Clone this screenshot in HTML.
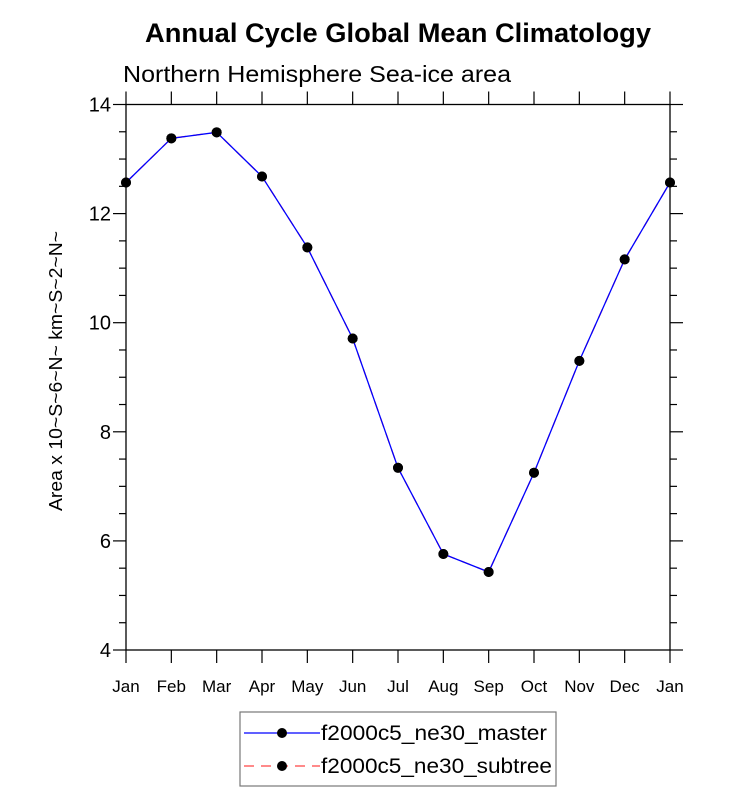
<!DOCTYPE html>
<html><head><meta charset="utf-8"><style>
body{margin:0;background:#fff;}
svg{display:block;font-family:"Liberation Sans",Helvetica,Arial,sans-serif;}
</style></head><body>
<svg id="chart" width="733" height="792">
<text x="398" y="42" text-anchor="middle" font-size="27" font-weight="bold" textLength="506" lengthAdjust="spacingAndGlyphs">Annual Cycle Global Mean Climatology</text>
<text x="123" y="82" font-size="23" textLength="388" lengthAdjust="spacingAndGlyphs">Northern Hemisphere Sea-ice area</text>
<text transform="translate(62,371) rotate(-90)" text-anchor="middle" font-size="18" textLength="280" lengthAdjust="spacingAndGlyphs">Area x 10~S~6~N~ km~S~2~N~</text>
<g id="axes"></g>
<g id="series"></g>
<g>
<rect x="240" y="712" width="316" height="74" fill="#fff" stroke="#777" stroke-width="1.2"/>
<line x1="244" y1="733" x2="320" y2="733" stroke="#0000ff" stroke-width="1.2"/>
<circle cx="282" cy="733" r="5" fill="#000"/>
<text x="321" y="740" font-size="21" textLength="226" lengthAdjust="spacingAndGlyphs">f2000c5_ne30_master</text>
<line x1="244" y1="766" x2="320" y2="766" stroke="#ff4444" stroke-width="1.2" stroke-dasharray="10,7"/>
<circle cx="282" cy="766" r="5" fill="#000"/>
<text x="321" y="773" font-size="21" textLength="231" lengthAdjust="spacingAndGlyphs">f2000c5_ne30_subtree</text>
</g>
</svg>
<script>
const months = ["Jan","Feb","Mar","Apr","May","Jun","Jul","Aug","Sep","Oct","Nov","Dec","Jan"];
const masterValues = [12.57,13.38,13.49,12.68,11.38,9.71,7.34,5.76,5.43,7.25,9.30,11.16,12.57];
const subtreeValues = [12.57,13.38,13.49,12.68,11.38,9.71,7.34,5.76,5.43,7.25,9.30,11.16,12.57];
const yTicks = [4,6,8,10,12,14];
const yMin = 4, yMax = 14;
const L=126,R=670,T=104.5,B=650;
const NS="http://www.w3.org/2000/svg";
const xs=i=>L+(R-L)*i/(months.length-1);
const ys=v=>B-(B-T)*(v-yMin)/(yMax-yMin);
function mk(tag,attrs,parent){const e=document.createElementNS(NS,tag);for(const k in attrs)e.setAttribute(k,attrs[k]);parent.appendChild(e);return e;}
const ax=document.getElementById('axes');
const fr=mk('rect',{x:L,y:T,width:R-L,height:B-T,fill:'none',stroke:'#000','stroke-width':1.3},ax);


for(let v=yMin;v<=yMax+1e-9;v+=0.5){
  const major=Math.abs(v-Math.round(v/2)*2)<1e-9;
  const len=major?13:7;
  const y=ys(v);
  const t1=mk('line',{x1:L-len,y1:y,x2:L,y2:y,stroke:'#000','stroke-width':1.2},ax);
  
  
  const t2=mk('line',{x1:R,y1:y,x2:R+len,y2:y,stroke:'#000','stroke-width':1.2},ax);
  
  
}
yTicks.forEach(v=>{
  const t=mk('text',{x:L-15,y:ys(v)+7,'text-anchor':'end','font-size':20},ax);
  t.textContent=v;
  
  
});
months.forEach((m,i)=>{
  const x=xs(i);
  const a=mk('line',{x1:x,y1:B,x2:x,y2:B+13,stroke:'#000','stroke-width':1.2},ax);
  
  
  const b=mk('line',{x1:x,y1:T-13,x2:x,y2:T,stroke:'#000','stroke-width':1.2},ax);
  
  
  const t=mk('text',{x:x,y:B+42,'text-anchor':'middle','font-size':17},ax);
  t.textContent=m;
  
  
});
const sg=document.getElementById('series');
function draw(vals,color,dash,name){
  const pts=vals.map((v,i)=>xs(i)+','+ys(v)).join(' ');
  const attrs={points:pts,fill:'none',stroke:color,'stroke-width':1.3};
  if(dash)attrs['stroke-dasharray']=dash;
  const pl=mk('polyline',attrs,sg);
  
  
  vals.forEach((v,i)=>{
    const c=mk('circle',{cx:xs(i),cy:ys(v),r:5,fill:'#000'},sg);
    
    
  });
}
draw(subtreeValues,'#ff4444','10,7','subtree');
draw(masterValues,'#0000ff',null,'master');
</script>
</body></html>
